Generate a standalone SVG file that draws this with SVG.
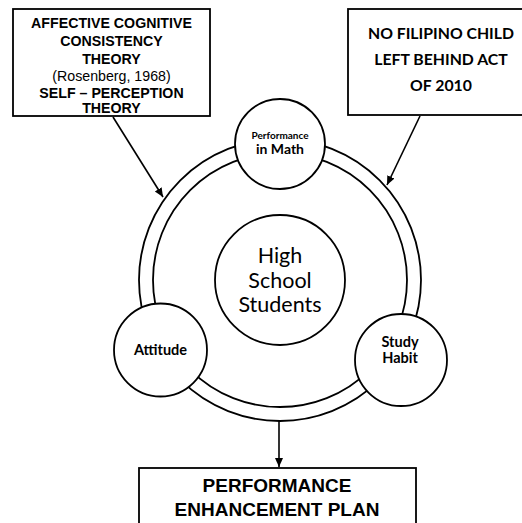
<svg xmlns="http://www.w3.org/2000/svg" width="522" height="523" viewBox="0 0 522 523">
<style>
.box{fill:#fff;stroke:#000;stroke-width:1.8}
.ring{fill:none;stroke:#000;stroke-width:1.8}
.node{fill:#fff;stroke:#000;stroke-width:1.8}
.conn{fill:none;stroke:#000;stroke-width:1.6}
.a{font-family:"Liberation Sans",Arial,sans-serif;font-weight:bold;fill:#000;text-anchor:middle}
.c{font-family:Lato,"Open Sans",sans-serif;fill:#000;text-anchor:middle}
</style>
<defs>
<marker id="ah" markerWidth="10" markerHeight="10" refX="9" refY="5" orient="auto" markerUnits="userSpaceOnUse">
<path d="M0,1 L9,5 L0,9 Z" fill="#000"/>
</marker>
</defs>
<rect width="522" height="523" fill="#fff"/>
<g id="theory-box">
<rect class="box" x="13" y="9" width="197" height="107"/>
<text class="a" font-size="14.2" x="111.5" y="28">AFFECTIVE COGNITIVE</text>
<text class="a" font-size="14.2" x="111.5" y="46">CONSISTENCY</text>
<text class="a" font-size="14.2" x="111.5" y="63.5">THEORY</text>
<text class="a" font-size="14.2" x="111.5" y="81" style="font-weight:normal">(Rosenberg, 1968)</text>
<text class="a" font-size="14.2" x="111.5" y="97.5">SELF – PERCEPTION</text>
<text class="a" font-size="14.2" x="111.5" y="113">THEORY</text>
</g>
<g id="act-box">
<rect class="box" x="348" y="9" width="180" height="106"/>
<text class="c" font-weight="bold" font-size="15.8" x="441" y="39">NO FILIPINO CHILD</text>
<text class="c" font-weight="bold" font-size="15.8" x="441" y="65">LEFT BEHIND ACT</text>
<text class="c" font-weight="bold" font-size="15.8" x="441" y="91">OF 2010</text>
</g>
<g id="connectors">
<line class="conn" x1="113" y1="117" x2="163" y2="197" marker-end="url(#ah)"/>
<line class="conn" x1="420" y1="116" x2="387" y2="185" marker-end="url(#ah)"/>
<line class="conn" x1="279" y1="421" x2="279" y2="467" marker-end="url(#ah)"/>
</g>
<g id="ring">
<circle class="ring" cx="280" cy="280" r="141"/>
<circle class="ring" cx="280" cy="280" r="127"/>
</g>
<g id="students">
<circle class="node" cx="280" cy="280" r="65"/>
<text class="c" font-size="21.5" x="280" y="263">High</text>
<text class="c" font-size="21.5" x="280" y="288">School</text>
<text class="c" font-size="21.5" x="280" y="312">Students</text>
</g>
<g id="performance">
<circle class="node" cx="280" cy="144" r="45"/>
<text class="c" font-weight="bold" font-size="10" x="280" y="139">Performance</text>
<text class="c" font-weight="bold" font-size="14" x="280" y="154">in Math</text>
</g>
<g id="attitude">
<circle class="node" cx="160.5" cy="350" r="46.5"/>
<text class="c" font-weight="bold" font-size="14.5" x="160.5" y="355">Attitude</text>
</g>
<g id="study-habit">
<circle class="node" cx="401" cy="360" r="46"/>
<text class="c" font-weight="bold" font-size="14.5" x="400" y="347">Study</text>
<text class="c" font-weight="bold" font-size="14.5" x="400" y="363">Habit</text>
</g>
<g id="plan-box">
<rect class="box" x="139" y="468" width="277" height="70"/>
<text class="a" font-size="19" x="277" y="492">PERFORMANCE</text>
<text class="a" font-size="19" x="277" y="516">ENHANCEMENT PLAN</text>
</g>
</svg>
